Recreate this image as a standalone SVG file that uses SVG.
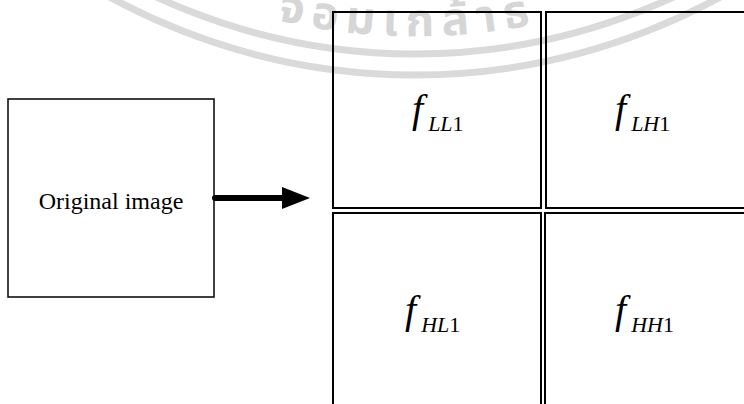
<svg xmlns="http://www.w3.org/2000/svg" width="744" height="404" viewBox="0 0 744 404">
<style>
.box{fill:none;stroke:#000;stroke-width:2}
.lbl{font-family:"Liberation Serif","Times New Roman",serif;fill:#000}
.txt{font-size:24px}
.f{font-style:italic;font-size:40px}
.sub{font-size:22px}
.it{font-style:italic}
.wm{fill:none;stroke:#dadada;stroke-width:7}
.wmt{font-family:"Noto Sans Thai","Noto Sans","DejaVu Sans",sans-serif;font-size:46px;font-weight:bold;letter-spacing:8px;fill:#d6d6d6}
.conn{stroke:#000;stroke-width:6;stroke-linecap:round;fill:none}
</style>
<defs>
<marker id="ah" markerUnits="userSpaceOnUse" markerWidth="28" markerHeight="22" refX="8" refY="11" orient="auto"><path d="M0,0 L28,11 L0,22 z" fill="#000"/></marker>
<path id="wmpath" d="M -169,-433 A 598 598 0 0 0 999,-433"/>
</defs>
<rect width="744" height="404" fill="#fff"/>
<g id="watermark">
<circle class="wm" cx="415" cy="-561" r="615"/>
<circle class="wm" cx="415" cy="-561" r="636"/>
<text class="wmt"><textPath href="#wmpath" startOffset="670">จอมเกล้าธ</textPath></text>
</g>
<g id="original">
<rect class="box" x="8" y="99" width="206" height="198" style="stroke-width:1.5"/>
<text class="lbl txt" x="111" y="209" text-anchor="middle">Original image</text>
</g>
<g id="LL1">
<rect class="box" x="333" y="12" width="208" height="196"/>
<text class="lbl" x="412" y="122"><tspan class="f">f</tspan><tspan class="sub it" dx="5" dy="9">LL</tspan><tspan class="sub">1</tspan></text>
</g>
<g id="LH1">
<rect class="box" x="546" y="12" width="210" height="196"/>
<text class="lbl" x="615" y="122"><tspan class="f">f</tspan><tspan class="sub it" dx="5" dy="9">LH</tspan><tspan class="sub">1</tspan></text>
</g>
<g id="HL1">
<rect class="box" x="333" y="213" width="208" height="200"/>
<text class="lbl" x="405" y="323"><tspan class="f">f</tspan><tspan class="sub it" dx="5" dy="9">HL</tspan><tspan class="sub">1</tspan></text>
</g>
<g id="HH1">
<rect class="box" x="545" y="213" width="210" height="200"/>
<text class="lbl" x="615" y="323"><tspan class="f">f</tspan><tspan class="sub it" dx="5" dy="9">HH</tspan><tspan class="sub">1</tspan></text>
</g>
<g id="connectors">
<line class="conn" x1="215" y1="198" x2="290" y2="198" marker-end="url(#ah)"/>
</g>
</svg>
